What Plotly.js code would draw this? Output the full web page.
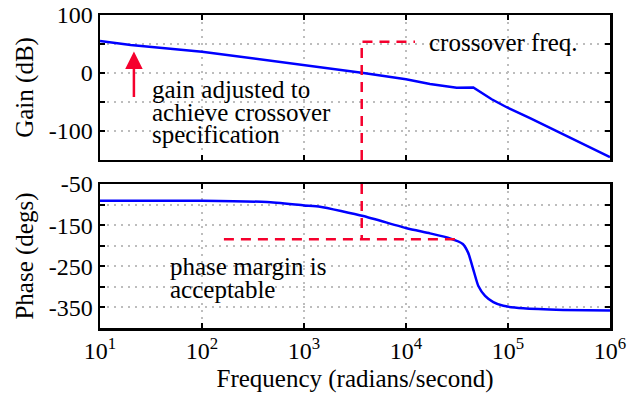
<!DOCTYPE html>
<html>
<head>
<meta charset="utf-8">
<script src="https://cdn.plot.ly/plotly-3.0.1.min.js"></script>
<style>html,body{margin:0;padding:0;background:#fff;}#chart{width:641px;height:396px;}</style>
</head>
<body>
<div id="chart"></div>
<script>
// Gain (dB) vs frequency (rad/s)
const gainFreq = [10, 20, 100, 1000, 3680, 10000, 17180, 31400, 45700, 69200, 97100, 164400, 239500, 348600, 436900, 1000000];
const gainDb   = [55.2, 48.3, 36.7, 13.8, 0.5, -10.9, -19.0, -25.3, -25.0, -45.3, -59.1, -78.1, -92.2, -105.5, -114, -145];
// Phase (degs) vs frequency
const phaseFreq = [10, 100, 434, 1000, 1435, 3811, 10160, 17180, 26980, 36040, 40830, 45700, 51200, 59600, 71800, 90000, 141000, 348000, 1000000];
const phaseDeg  = [-90.6, -90.6, -94, -102, -105, -127.8, -157.6, -170, -182, -195.7, -218, -258, -298, -322, -337, -346, -352, -356, -357.5];
// Guide lines
const crossoverFreq = 3680;
const crossoverMarkY = 54;
const crossoverLineEnd = 12250;
const pmLevel = -184;
const pmStart = 164;
const pmEnd = 30200;
const gainAxisRange = [-150, 100];
const phaseAxisRange = [-400, -50];
const xTickVals = [10, 100, 1000, 10000, 100000, 1000000];
const xTickText = ['10<sup>1</sup>', '10<sup>2</sup>', '10<sup>3</sup>', '10<sup>4</sup>', '10<sup>5</sup>', '10<sup>6</sup>'];
const gainTickVals = [100, 0, -100];
const gainTickText = ['100', '0', '-100'];
const gainMinorVals = [50, -50, -150];
const phaseTickVals = [-50, -150, -250, -350];
const phaseTickText = ['-50', '-150', '-250', '-350'];
const phaseMinorVals = [-100, -200, -300, -400];

const RED = '#f5002d';
const BLUE = '#0000ff';
const FONT = 'Liberation Serif';

const traces = [
  {x: gainFreq, y: gainDb, xaxis: 'x', yaxis: 'y', mode: 'lines', line: {color: BLUE, width: 2.5}},
  {x: [crossoverFreq, crossoverFreq, crossoverLineEnd], y: [gainAxisRange[0], crossoverMarkY, crossoverMarkY], xaxis: 'x', yaxis: 'y', mode: 'lines', line: {color: RED, width: 2.5, dash: '10px,7px'}},
  {x: phaseFreq, y: phaseDeg, xaxis: 'x2', yaxis: 'y2', mode: 'lines', line: {color: BLUE, width: 2.5, shape: 'spline', smoothing: 0.5}},
  {x: [crossoverFreq, crossoverFreq], y: [phaseAxisRange[1], pmLevel], xaxis: 'x2', yaxis: 'y2', mode: 'lines', line: {color: RED, width: 2.5, dash: '10px,7px'}},
  {x: [pmStart, pmEnd], y: [pmLevel, pmLevel], xaxis: 'x2', yaxis: 'y2', mode: 'lines', line: {color: RED, width: 2.5, dash: '10px,7px'}}
];

const axBase = {
  showline: true, linecolor: '#000', linewidth: 2.5, mirror: 'ticks',
  ticks: 'inside', ticklen: 5, tickwidth: 2, tickcolor: '#000',
  showgrid: true, gridcolor: '#bdbdbd', gridwidth: 2, griddash: '2px,5px',
  zeroline: false, tickfont: {family: FONT, size: 24, color: '#000'}
};
const xBase = Object.assign({}, axBase, {type: 'log', range: [1, 6], tickmode: 'array', tickvals: xTickVals, ticktext: xTickText});
function minorY(vals) {
  return {tickmode: 'array', tickvals: vals, ticks: 'inside', ticklen: 5, tickwidth: 2, tickcolor: '#000', showgrid: true, gridcolor: '#bdbdbd', gridwidth: 2, griddash: '2px,5px'};
}

const layout = {
  width: 641, height: 396,
  margin: {l: 100, r: 31, t: 15, b: 68},
  paper_bgcolor: '#fff', plot_bgcolor: '#fff',
  showlegend: false,
  font: {family: FONT, size: 24, color: '#000'},
  xaxis: Object.assign({}, xBase, {anchor: 'y', showticklabels: false}),
  yaxis: Object.assign({}, axBase, {domain: [0.537, 1], range: gainAxisRange, tickmode: 'array', tickvals: gainTickVals, ticktext: gainTickText, minor: minorY(gainMinorVals),
    title: {text: 'Gain (dB)', font: {family: FONT, size: 25}, standoff: 8}}),
  xaxis2: Object.assign({}, xBase, {anchor: 'y2', title: {text: 'Frequency (radians/second)', font: {family: FONT, size: 25}, standoff: 6}}),
  yaxis2: Object.assign({}, axBase, {domain: [0, 0.46], range: phaseAxisRange, tickmode: 'array', tickvals: phaseTickVals, ticktext: phaseTickText, minor: minorY(phaseMinorVals),
    title: {text: 'Phase (degs)', font: {family: FONT, size: 25}, standoff: 8}}),
  annotations: [
    {xref: 'x', yref: 'y', x: Math.log10(21.5), y: 37, axref: 'x', ayref: 'y', ax: Math.log10(21.5), ay: -44,
      text: '', showarrow: true, arrowhead: 2, arrowsize: 1.4, arrowwidth: 2.5, arrowcolor: RED},
    {xref: 'x', yref: 'y', x: 1.49, y: -28.4, text: 'gain adjusted to', showarrow: false, xanchor: 'left', yanchor: 'middle', font: {family: FONT, size: 25}},
    {xref: 'x', yref: 'y', x: 1.49, y: -68.1, text: 'achieve crossover', showarrow: false, xanchor: 'left', yanchor: 'middle', font: {family: FONT, size: 25}},
    {xref: 'x', yref: 'y', x: 1.49, y: -106, text: 'specification', showarrow: false, xanchor: 'left', yanchor: 'middle', font: {family: FONT, size: 25}},
    {xref: 'x', yref: 'y', x: 4.206, y: 52.9, text: 'crossover freq.', showarrow: false, xanchor: 'left', yanchor: 'middle', font: {family: FONT, size: 25}},
    {xref: 'x2', yref: 'y2', x: 1.667, y: -250, text: 'phase margin is', showarrow: false, xanchor: 'left', yanchor: 'middle', font: {family: FONT, size: 25}},
    {xref: 'x2', yref: 'y2', x: 1.667, y: -306.7, text: 'acceptable', showarrow: false, xanchor: 'left', yanchor: 'middle', font: {family: FONT, size: 25}}
  ]
};

Plotly.newPlot('chart', traces, layout, {staticPlot: true, displayModeBar: false});
</script>
</body>
</html>
